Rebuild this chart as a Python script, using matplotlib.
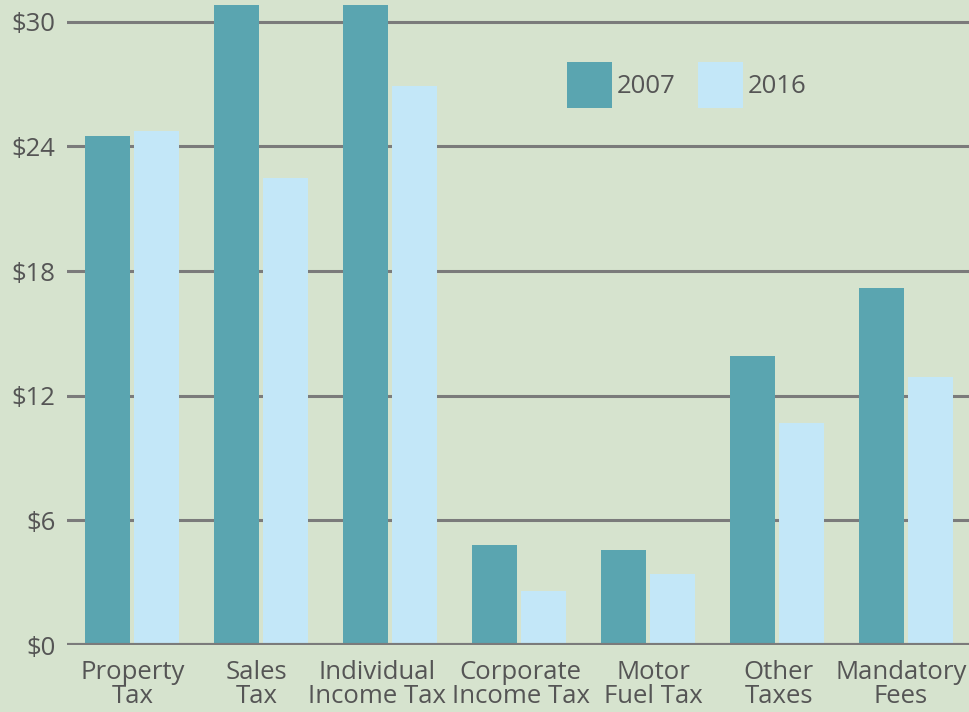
import numpy as np
import matplotlib
matplotlib.use("Agg")
import matplotlib.pyplot as plt
import matplotlib.transforms as mtransforms

categories = ["Property\nTax", "Sales\nTax", "Individual\nIncome Tax",
              "Corporate\nIncome Tax", "Motor\nFuel Tax", "Other\nTaxes",
              "Mandatory\nFees"]
vals_2007 = [24.5, 30.8, 30.8, 4.8, 4.6, 13.9, 17.2]
vals_2016 = [24.75, 22.5, 26.9, 2.6, 3.4, 10.7, 12.9]
yticks = [0, 6, 12, 18, 24, 30]
ytick_labels = ["$0", "$6", "$12", "$18", "$24", "$30"]

bg = "#d6e3ce"
teal = "#5aa5b0"
light = "#c3e7f8"
txt = "#555555"
grid = "#7b7b7b"

plt.rcParams['font.family'] = ['Open Sans', 'DejaVu Sans']

fig = plt.figure(figsize=(9.69, 7.12), dpi=100, facecolor=bg)
ax = fig.add_axes([0.069, 0.094, 0.931, 0.906])
ax.set_facecolor(bg)

x = np.arange(len(categories))
w = 0.35
ax.bar(x - 0.19, vals_2007, w, color=teal, label="2007", zorder=3)
ax.bar(x + 0.19, vals_2016, w, color=light, label="2016", zorder=3)

ax.set_xlim(-0.504, 6.49)
ax.set_ylim(0, 31.05)
ax.set_yticks(yticks)
ax.set_yticklabels(ytick_labels)
ax.set_xticks(x)
ax.set_xticklabels(categories, linespacing=0.93)
ax.tick_params(axis='both', length=0, labelsize=18.5, colors=txt)
ax.tick_params(axis='y', pad=8)
ax.tick_params(axis='x', pad=11)

# nudge some labels sideways so the long ones don't collide
nudge = [1, -4, -13, 2, 6, 2, -5]
for t, dx in zip(ax.get_xticklabels(), nudge):
    t.set_color(txt)
    t.set_transform(t.get_transform() +
                    mtransforms.ScaledTranslation(dx / 100, 0, fig.dpi_scale_trans))

ax.yaxis.grid(True, color=grid, linewidth=2.2, zorder=1)
ax.set_axisbelow(True)
for s in ax.spines.values():
    s.set_visible(False)
ax.axhline(0, color=grid, linewidth=3, zorder=4)

leg = ax.legend(ncol=2, frameon=False, loc='upper left',
                bbox_to_anchor=(567 / 969, 1 - 62 / 712),
                bbox_transform=fig.transFigure,
                handlelength=1.75, handleheight=2.37, handletextpad=0.2,
                columnspacing=0.85, borderpad=0, borderaxespad=0,
                fontsize=18.5)
for t in leg.get_texts():
    t.set_color(txt)

fig.savefig("out.png", dpi=100, facecolor=bg)
